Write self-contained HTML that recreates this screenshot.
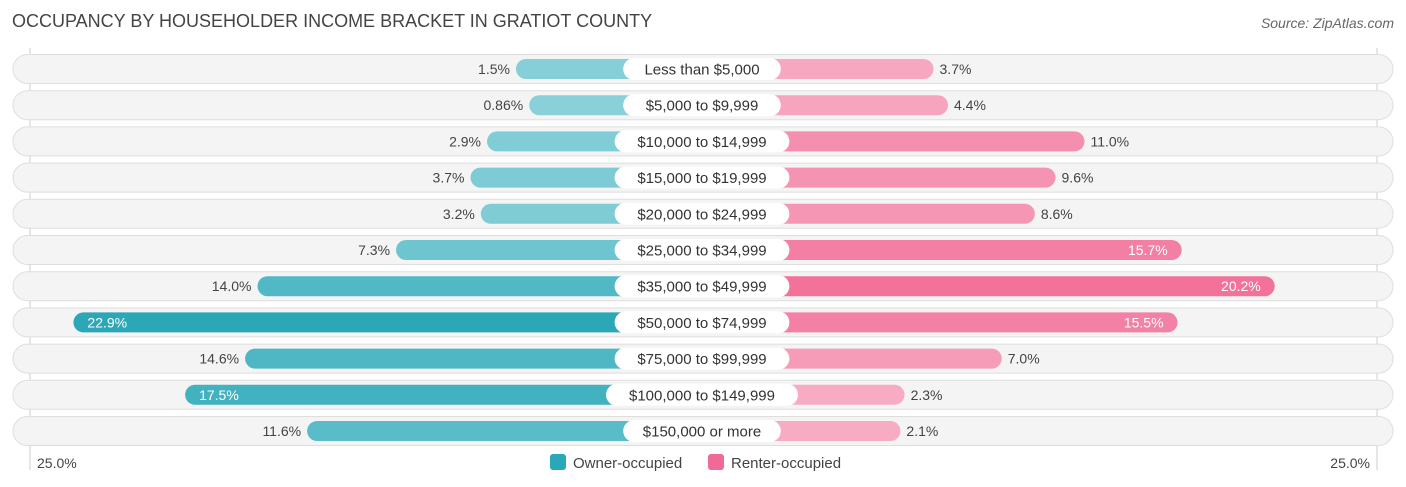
<!DOCTYPE html>
<html><head><meta charset="utf-8"><style>
body{margin:0;background:#fff;font-family:"Liberation Sans",sans-serif;}
#c{position:relative;width:1406px;height:487px;overflow:hidden}
.t{position:absolute;left:12px;top:11px;font-size:18px;color:#444}
.s{position:absolute;right:12px;top:15px;font-size:14px;color:#666;font-style:italic}
</style></head><body>
<div id="c">
<div class="t">OCCUPANCY BY HOUSEHOLDER INCOME BRACKET IN GRATIOT COUNTY</div>
<div class="s">Source: ZipAtlas.com</div>
<svg id="svg" width="1406" height="487" style="position:absolute;left:0;top:0"></svg>
</div>
<script>
const categories=["Less than $5,000","$5,000 to $9,999","$10,000 to $14,999","$15,000 to $19,999","$20,000 to $24,999","$25,000 to $34,999","$35,000 to $49,999","$50,000 to $74,999","$75,000 to $99,999","$100,000 to $149,999","$150,000 or more"];
const owner=[1.5,0.86,2.9,3.7,3.2,7.3,14.0,22.9,14.6,17.5,11.6];
const renter=[3.7,4.4,11.0,9.6,8.6,15.7,20.2,15.5,7.0,2.3,2.1];
const ownerLabels=["1.5%","0.86%","2.9%","3.7%","3.2%","7.3%","14.0%","22.9%","14.6%","17.5%","11.6%"];
const renterLabels=["3.7%","4.4%","11.0%","9.6%","8.6%","15.7%","20.2%","15.5%","7.0%","2.3%","2.1%"];
const axisMax=25;
const NS="http://www.w3.org/2000/svg";
const svg=document.getElementById('svg');
const cx=702,leftZero=547,rightZero=857,scale=(leftZero-30)/axisMax;
const xL=v=>leftZero-v*scale, xR=v=>rightZero+v*scale;
const yRow=i=>69+i*36.2;
function mk(t,a){const e=document.createElementNS(NS,t);for(const k in a)e.setAttribute(k,a[k]);svg.appendChild(e);return e;}
function mix(a,b,t){const p=s=>[1,3,5].map(i=>parseInt(s.substr(i,2),16));const A=p(a),B=p(b);return 'rgb('+A.map((x,i)=>Math.round(x+(B[i]-x)*t)).join(',')+')';}
let g=mk('line',{x1:30,y1:48,x2:30,y2:470,stroke:'#ccc','stroke-width':1});

g=mk('line',{x1:1377,y1:48,x2:1377,y2:470,stroke:'#ccc','stroke-width':1});

categories.forEach((c,i)=>{
  const y=yRow(i);
  let r=mk('rect',{x:13,y:y-14.5,width:1380,height:29,rx:14.5,fill:'#f4f4f4',stroke:'#dedede'});
  
  const to=Math.min(owner[i]/axisMax,1), tr=Math.min(renter[i]/axisMax,1);
  let b=mk('rect',{x:xL(owner[i]),y:y-10,width:cx-xL(owner[i]),height:20,rx:10,fill:mix('#8dd2da','#22a3b5',to)});
  
  b=mk('rect',{x:cx,y:y-10,width:xR(renter[i])-cx,height:20,rx:10,fill:mix('#f8b3c8','#f0628f',tr)});
  
  const inO=owner[i]>15, inR=renter[i]>15;
  let t=mk('text',{x:inO?xL(owner[i])+14:xL(owner[i])-6,y:y+5,'font-size':14,fill:inO?'#fff':'#444','text-anchor':inO?'start':'end'});
  t.textContent=ownerLabels[i];
  t=mk('text',{x:inR?xR(renter[i])-14:xR(renter[i])+6,y:y+5,'font-size':14,fill:inR?'#fff':'#444','text-anchor':inR?'end':'start'});
  t.textContent=renterLabels[i];
  const w=c.length*8.6+20;
  let p=mk('rect',{x:cx-w/2,y:y-11,width:w,height:22,rx:11,fill:'#fff'});
  
  t=mk('text',{x:cx,y:y+5.5,'font-size':15,fill:'#333','text-anchor':'middle'});
  t.textContent=c;
});
let a=mk('text',{x:37,y:468,'font-size':14,fill:'#444'});a.textContent=axisMax.toFixed(1)+'%';

a=mk('text',{x:1370,y:468,'font-size':14,fill:'#444','text-anchor':'end'});a.textContent=axisMax.toFixed(1)+'%';

let l=mk('rect',{x:550,y:454,width:16,height:16,rx:3,fill:'#2aa8b8'});
l=mk('text',{x:573,y:468,'font-size':15,fill:'#444'});l.textContent='Owner-occupied';
l=mk('rect',{x:708,y:454,width:16,height:16,rx:3,fill:'#f06a96'});
l=mk('text',{x:731,y:468,'font-size':15,fill:'#444'});l.textContent='Renter-occupied';
</script>
</body></html>
